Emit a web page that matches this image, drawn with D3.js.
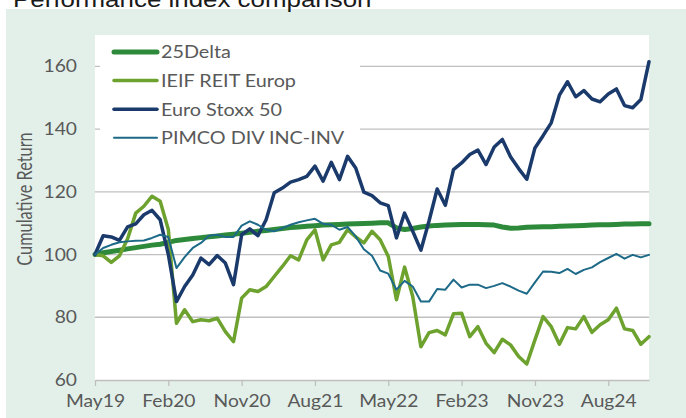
<!DOCTYPE html>
<html>
<head>
<meta charset="utf-8">
<script src="https://cdn.jsdelivr.net/npm/d3@7"></script>
<style>
	body { margin: 0; background: #ffffff; }
	#chart { width: 686px; height: 418px; }
</style>
</head>
<body>
<div id="chart"></div>
<script>
const months = [
	'May19', 'Jun19', 'Jul19', 'Aug19', 'Sep19', 'Oct19', 'Nov19', 'Dec19',
	'Jan20', 'Feb20', 'Mar20', 'Apr20', 'May20', 'Jun20', 'Jul20', 'Aug20', 'Sep20', 'Oct20', 'Nov20', 'Dec20',
	'Jan21', 'Feb21', 'Mar21', 'Apr21', 'May21', 'Jun21', 'Jul21', 'Aug21', 'Sep21', 'Oct21', 'Nov21', 'Dec21',
	'Jan22', 'Feb22', 'Mar22', 'Apr22', 'May22', 'Jun22', 'Jul22', 'Aug22', 'Sep22', 'Oct22', 'Nov22', 'Dec22',
	'Jan23', 'Feb23', 'Mar23', 'Apr23', 'May23', 'Jun23', 'Jul23', 'Aug23', 'Sep23', 'Oct23', 'Nov23', 'Dec23',
	'Jan24', 'Feb24', 'Mar24', 'Apr24', 'May24', 'Jun24', 'Jul24', 'Aug24', 'Sep24', 'Oct24', 'Nov24', 'Dec24',
	'Jan25',
];

const delta25 = [
	100, 100.6, 101, 101.4, 101.8, 102.2, 102.6, 103, 103.3, 103.9,
	104.5, 104.8, 105.1, 105.4, 105.7, 105.9, 106.2, 106.5, 106.8, 107.1,
	107.4, 107.7, 108, 108.3, 108.6, 108.8, 109, 109.2, 109.4, 109.5,
	109.6, 109.7, 109.8, 109.9, 110, 110.1, 110.1, 108.5, 108, 108.3,
	108.8, 109.1, 109.3, 109.4, 109.5, 109.6, 109.6, 109.6, 109.5, 109.4,
	108.8, 108.4, 108.5, 108.7, 108.8, 108.9, 108.9, 109, 109.1, 109.2,
	109.3, 109.4, 109.5, 109.5, 109.6, 109.7, 109.7, 109.8, 109.8,
];

const ieifReit = [
	100, 99.6, 97.5, 99.6, 105, 113.2, 115.4, 118.6, 117, 108,
	78.1, 82.4, 78.6, 79.2, 78.9, 79.7, 75.4, 72.2, 86.1, 88.8,
	88.2, 89.8, 93, 96.2, 99.6, 98.3, 104.7, 107.9, 98.3, 103.1,
	103.9, 107.9, 105.6, 103.7, 107.4, 104.7, 99.4, 85.6, 96, 86.6,
	70.6, 75.1, 75.8, 74.4, 81.1, 81.3, 73.8, 77, 71.7, 68.7,
	73, 71.2, 67.5, 65.1, 72.8, 80.2, 77, 71.4, 76.7, 76.3,
	80.2, 75.2, 77.6, 79.2, 82.9, 76.3, 75.8, 71.4, 73.8,
];

const euroStoxx = [
	100, 106, 105.6, 104.5, 108.8, 109.8, 112.7, 114.1, 111.1, 100,
	85, 89.8, 93.5, 98.9, 96.8, 99.7, 97.3, 90.4, 106.3, 108.2,
	106, 111.1, 119.7, 121.2, 123.1, 123.9, 124.9, 128.2, 123.4, 129.4,
	123.9, 131.3, 127.6, 119.9, 118.8, 116.5, 115.6, 105.3, 113.2, 107.4,
	101.4, 110.7, 120.9, 115.7, 127.1, 129.2, 131.9, 133.3, 128.7, 134.3,
	136.7, 131.2, 127.4, 124, 134, 137.9, 142, 150.8, 155.1, 150.3,
	152.3, 149.6, 148.7, 151.2, 152.8, 147.5, 146.8, 149.4, 161.5,
];

const pimco = [
	100, 102.1, 103.1, 103.9, 104.2, 104.4, 104.5, 105.3, 106.3, 105.6,
	95.7, 99.2, 102.1, 103.7, 106, 106.3, 105.6, 105.6, 109.2, 110.6,
	109.5, 107.9, 107.4, 108.4, 109.5, 110.3, 110.9, 111.4, 109.8, 109.5,
	107.9, 108.8, 105.8, 101.7, 99.6, 94.9, 93.9, 88.8, 91.6, 89.8,
	85, 85, 89, 88.8, 92, 89.5, 90.4, 90.4, 89.3, 90,
	90.9, 89.8, 88.5, 87.5, 91.1, 94.6, 94.5, 94.1, 95.4, 93.8,
	95.1, 95.9, 97.6, 98.9, 100.2, 98.7, 99.9, 99.1, 99.9,
];

const seriesNames = ['25Delta', 'IEIF REIT Europ', 'Euro Stoxx 50', 'PIMCO DIV INC-INV'];
const yTicks = [60, 80, 100, 120, 140, 160];
const xTickEvery = 9;

class PerformanceChart {
	constructor(_config) {
		this.config = {
			parentElementSelector: _config.parentElementSelector,
			width: _config.width || 686,
			height: _config.height || 418,
			plot: _config.plot || { left: 95, right: 649, top: 35, bottom: 380 },
			// the original picture is stretched sideways, so text is too
			stretch: _config.stretch || 1.1,
		};
		this.series = [
			{ key: seriesNames[0], values: delta25, color: '#2e8a3b', width: 5 },
			{ key: seriesNames[1], values: ieifReit, color: '#6da22f', width: 3.5 },
			{ key: seriesNames[2], values: euroStoxx, color: '#1b3a6c', width: 3.5 },
			{ key: seriesNames[3], values: pimco, color: '#1d6a88', width: 2 },
		];
		this.initVis();
	}

	initVis() {
		const p = this.config.plot;
		const sx = this.config.stretch;

		this.svg = d3
			.select(this.config.parentElementSelector)
			.append('svg')
			.attr('width', this.config.width)
			.attr('height', this.config.height);

		// chart area
		this.svg
			.append('rect')
			.attr('x', 6)
			.attr('y', 9)
			.attr('width', this.config.width - 6)
			.attr('height', this.config.height - 9)
			.attr('fill', '#e2f0e9');

		// title, cut by the top edge
		this.svg
			.append('text')
			.attr('transform', 'translate(13,7) scale(1.2,1)')
			.attr('font-family', 'Liberation Sans, Arial, sans-serif')
			.attr('font-size', 21.6)
			.attr('fill', '#1a1a1a')
			.text('Performance index comparison');

		this.svg
			.append('rect')
			.attr('x', p.left)
			.attr('y', p.top)
			.attr('width', p.right - p.left)
			.attr('height', p.bottom - p.top)
			.attr('fill', '#ffffff');

		this.x = d3.scalePoint().domain(months).range([p.left, p.right]);
		this.y = d3.scaleLinear().domain([60, 170]).range([p.bottom, p.top]);

		// gridlines
		this.svg
			.append('g')
			.selectAll('line')
			.data(yTicks.slice(1))
			.join('line')
			.attr('x1', p.left)
			.attr('x2', p.right)
			.attr('y1', (d) => this.y(d))
			.attr('y2', (d) => this.y(d))
			.attr('stroke', '#c0c0c0')
			.attr('stroke-width', 1.3);

		this.yAxis = d3.axisLeft(this.y).tickValues(yTicks).tickSize(0).tickPadding(0);
		this.yAxisG = this.svg
			.append('g')
			.attr('transform', `translate(${p.left - 18},0)`)
			.call(this.yAxis);
		this.yAxisG.select('.domain').remove();
		this.yAxisG.selectAll('.tick text').attr('x', null).attr('transform', `scale(${sx},1)`);

		this.xAxis = d3
			.axisBottom(this.x)
			.tickValues(months.filter((d, i) => i % xTickEvery === 0))
			.tickSizeInner(6)
			.tickSizeOuter(0)
			.tickPadding(9);
		this.xAxisG = this.svg
			.append('g')
			.attr('transform', `translate(0,${p.bottom})`)
			.call(this.xAxis);
		this.xAxisG.select('.domain').attr('stroke', '#bfbfbf').attr('stroke-width', 1.5);
		this.xAxisG.selectAll('.tick line').attr('stroke', '#bfbfbf').attr('stroke-width', 1.3);
		this.xAxisG.selectAll('.tick text').attr('transform', `scale(${sx},1)`);

		this.svg
			.selectAll('.tick text')
			.attr('font-family', 'Lato, sans-serif')
			.attr('font-size', 17.5)
			.attr('fill', '#595959');

		// axis title: the length runs down the page, so only its thickness is stretched
		this.svg
			.append('text')
			.attr('transform', 'translate(32,199) scale(1.3,1) rotate(-90)')
			.attr('text-anchor', 'middle')
			.attr('font-family', 'Lato, sans-serif')
			.attr('font-size', 16.3)
			.attr('fill', '#595959')
			.text('Cumulative Return');

		this.updateVis();
	}

	updateVis() {
		const sx = this.config.stretch;
		const line = d3
			.line()
			.x((d, i) => this.x(months[i]))
			.y((d) => this.y(d));

		this.svg
			.append('g')
			.selectAll('.line')
			.data(this.series)
			.join('path')
			.attr('class', 'line')
			.attr('fill', 'none')
			.attr('stroke', (d) => d.color)
			.attr('stroke-width', (d) => d.width)
			.attr('stroke-linejoin', 'round')
			.attr('stroke-linecap', 'round')
			.attr('d', (d) => line(d.values));

		// legend
		const legend = this.svg.append('g');
		legend
			.append('rect')
			.attr('x', 100)
			.attr('y', 37)
			.attr('width', 260)
			.attr('height', 112)
			.attr('fill', '#ffffff');

		const rows = legend
			.selectAll('.row')
			.data(this.series)
			.join('g')
			.attr('class', 'row')
			.attr('transform', (d, i) => `translate(0,${52 + i * 28.6})`);
		rows
			.append('line')
			.attr('x1', 114)
			.attr('x2', 157)
			.attr('stroke', (d) => d.color)
			.attr('stroke-width', (d) => d.width)
			.attr('stroke-linecap', 'round');
		rows
			.append('text')
			.attr('transform', `translate(161,0) scale(${sx},1)`)
			.attr('dy', '0.36em')
			.attr('font-family', 'Lato, sans-serif')
			.attr('font-size', 18)
			.attr('fill', '#595959')
			.text((d) => d.key);
	}
}

const chart = new PerformanceChart({ parentElementSelector: '#chart' });
</script>
</body>
</html>
